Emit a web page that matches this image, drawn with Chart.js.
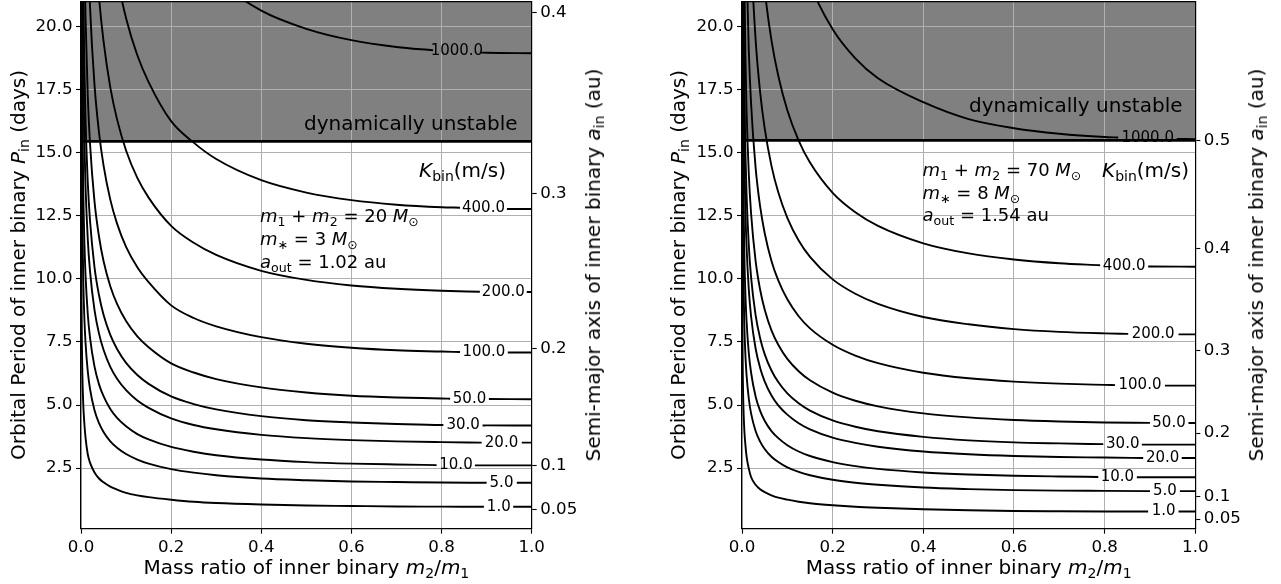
<!DOCTYPE html>
<html><head><meta charset="utf-8">
<script src="https://cdn.jsdelivr.net/npm/chart.js@4.4.0/dist/chart.umd.min.js"></script>
<style>
html,body{margin:0;padding:0;background:#fff;}
#wrap{position:relative;width:1281px;height:584px;overflow:hidden;font-family:'DejaVu Sans',sans-serif;color:#000;}
.cv{position:absolute;top:0;}
.t{position:absolute;white-space:nowrap;line-height:1;font-size:20px;}
.s{font-size:70%;vertical-align:-0.28em;line-height:0;}
.rot{transform:translate(-50%,-50%) rotate(-90deg);}
.hc{transform:translateX(-50%);}
i{font-style:italic;}
</style></head><body>
<div id="wrap">
<canvas id="cL" class="cv" width="640" height="584" style="left:0px"></canvas>
<canvas id="cR" class="cv" width="641" height="584" style="left:640px"></canvas>

<div class="t hc" style="left:306.4px;top:557.1px">Mass ratio of inner binary <i>m</i><span class="s">2</span>/<i>m</i><span class="s">1</span></div>
<div class="t rot" style="left:17.6px;top:265px">Orbital Period of inner binary <i>P</i><span class="s">in</span> (days)</div>
<div class="t rot" style="left:593.3px;top:265px">Semi-major axis of inner binary <i>a</i><span class="s">in</span> (au)</div>
<div class="t" style="left:304px;top:113.3px">dynamically unstable</div>
<div class="t" style="left:419px;top:160.4px"><i>K</i><span class="s">bin</span>(m/s)</div>
<div class="t" style="left:260px;top:206.5px;font-size:18px"><i>m</i><span class="s">1</span> + <i>m</i><span class="s">2</span> = 20 <i>M</i><span class="s">⊙</span></div>
<div class="t" style="left:260px;top:229.5px;font-size:18px"><i>m</i><span class="s">∗</span> = 3 <i>M</i><span class="s">⊙</span></div>
<div class="t" style="left:260px;top:252.5px;font-size:18px"><i>a</i><span class="s">out</span> = 1.02 au</div>

<div class="t hc" style="left:968.7px;top:557.1px">Mass ratio of inner binary <i>m</i><span class="s">2</span>/<i>m</i><span class="s">1</span></div>
<div class="t rot" style="left:678.3px;top:265px">Orbital Period of inner binary <i>P</i><span class="s">in</span> (days)</div>
<div class="t rot" style="left:1256px;top:265px">Semi-major axis of inner binary <i>a</i><span class="s">in</span> (au)</div>
<div class="t" style="left:969px;top:95px">dynamically unstable</div>
<div class="t" style="left:1102px;top:160px"><i>K</i><span class="s">bin</span>(m/s)</div>
<div class="t" style="left:922.5px;top:161px;font-size:18px"><i>m</i><span class="s">1</span> + <i>m</i><span class="s">2</span> = 70 <i>M</i><span class="s">⊙</span></div>
<div class="t" style="left:922.5px;top:183.5px;font-size:18px"><i>m</i><span class="s">∗</span> = 8 <i>M</i><span class="s">⊙</span></div>
<div class="t" style="left:922.5px;top:206px;font-size:18px"><i>a</i><span class="s">out</span> = 1.54 au</div>
</div>
<script>
// ---------- shared axis ticks / labels ----------
const Q_TICKS = [0, 0.2, 0.4, 0.6, 0.8, 1.0];
const Q_TICK_LABELS = ['0.0', '0.2', '0.4', '0.6', '0.8', '1.0'];
const P_TICKS = [2.5, 5, 7.5, 10, 12.5, 15, 17.5, 20];
const P_TICK_LABELS = ['2.5', '5.0', '7.5', '10.0', '12.5', '15.0', '17.5', '20.0'];
const LEVELS = [1, 5, 10, 20, 30, 50, 100, 200, 400, 1000];
const LEVEL_LABELS = ['1.0', '5.0', '10.0', '20.0', '30.0', '50.0', '100.0', '200.0', '400.0', '1000.0'];

// ---------- left panel (m1+m2 = 20 Msun) ----------
const L_A_TICK_P = [0.85, 2.6, 7.25, 13.37, 20.56];
const L_A_TICK_LABELS = ['0.05', '0.1', '0.2', '0.3', '0.4'];
const L_UNSTABLE_P = 15.45;
const LQ = [0.0001, 0.0002, 0.0005, 0.001, 0.002, 0.003, 0.005, 0.0075, 0.01, 0.015, 0.02, 0.03, 0.04, 0.05, 0.065, 0.08, 0.1, 0.125, 0.15, 0.2, 0.25, 0.3, 0.4, 0.5, 0.6, 0.7, 0.8, 0.9, 1.0];
const L_K1 = [25.9, 19.39, 13.2, 9.86, 7.38, 6.23, 5.03, 4.26, 3.72, 3.05, 2.72, 2.33, 2.09, 1.94, 1.77, 1.65, 1.52, 1.42, 1.35, 1.25, 1.17, 1.12, 1.06, 1.02, 1.0, 0.98, 0.975, 0.971, 0.97];
const L_K5 = [null, null, 26.1, 19.53, 14.61, 12.33, 9.96, 8.43, 7.49, 6.34, 5.64, 4.79, 4.28, 3.93, 3.56, 3.31, 3.06, 2.84, 2.68, 2.46, 2.32, 2.22, 2.09, 2.02, 1.97, 1.95, 1.93, 1.92, 1.92];
const L_K10 = [null, null, null, 26.54, 19.86, 16.76, 13.55, 11.46, 10.18, 8.61, 7.67, 6.52, 5.82, 5.35, 4.84, 4.49, 4.16, 3.85, 3.64, 3.34, 3.15, 3.01, 2.84, 2.74, 2.68, 2.645, 2.62, 2.61, 2.61];
const L_K20 = [null, null, null, null, 26.71, 22.53, 18.22, 15.41, 13.69, 11.58, 10.31, 8.76, 7.83, 7.19, 6.51, 6.04, 5.59, 5.18, 4.89, 4.47, 4.21, 4.04, 3.82, 3.69, 3.61, 3.56, 3.53, 3.51, 3.51];
const L_K30 = [null, null, null, null, null, 26.9, 21.75, 18.39, 16.34, 13.83, 12.31, 10.46, 9.35, 8.58, 7.78, 7.22, 6.67, 6.19, 5.84, 5.34, 5.04, 4.83, 4.56, 4.4, 4.31, 4.25, 4.21, 4.195, 4.19];
const L_K50 = [null, null, null, null, null, null, 27.14, 22.96, 20.4, 17.26, 15.36, 13.06, 11.67, 10.71, 9.71, 9.01, 8.33, 7.72, 7.29, 6.65, 6.29, 6.03, 5.7, 5.5, 5.37, 5.3, 5.26, 5.24, 5.23];
const L_K100 = [null, null, null, null, null, null, null, 31.08, 27.61, 23.36, 20.79, 17.68, 15.8, 14.5, 13.14, 12.19, 11.27, 10.46, 9.87, 8.95, 8.45, 8.12, 7.69, 7.43, 7.27, 7.17, 7.12, 7.09, 7.08];
const L_K200 = [null, null, null, null, null, null, null, null, null, null, 27.84, 23.67, 21.15, 19.42, 17.59, 16.32, 15.09, 14.0, 13.22, 12.1, 11.43, 10.95, 10.32, 9.96, 9.74, 9.61, 9.53, 9.49, 9.48];
const L_K400 = [null, null, null, null, null, null, null, null, null, null, null, null, null, 26.15, 23.7, 21.99, 20.33, 18.86, 17.8, 16.25, 15.4, 14.75, 13.91, 13.42, 13.12, 12.94, 12.84, 12.79, 12.77];
const L_K1000 = [null, null, null, null, null, null, null, null, null, null, null, null, null, null, null, null, null, null, null, 24.2, 22.84, 21.88, 20.63, 19.91, 19.46, 19.19, 19.04, 18.96, 18.94];
const L_GAP_Q0 = [0.894, 0.900, 0.789, 0.889, 0.804, 0.819, 0.841, 0.885, 0.841, 0.781];
const L_GAP_Q1 = [0.959, 0.967, 0.874, 0.978, 0.891, 0.905, 0.947, 0.989, 0.945, 0.885];
const L_GAP_P0 = [0.97, 1.92, 2.62, 3.51, 4.21, 5.25, 7.10, 9.49, 12.82, 19.06];
const L_GAP_P1 = [0.97, 1.92, 2.61, 3.51, 4.19, 5.24, 7.08, 9.48, 12.77, 18.97];
const L_LABEL_Q = [0.927, 0.933, 0.832, 0.933, 0.848, 0.862, 0.894, 0.937, 0.893, 0.834];
const L_LABEL_P = [0.97, 1.92, 2.62, 3.51, 4.20, 5.25, 7.09, 9.48, 12.80, 19.02];

// ---------- right panel (m1+m2 = 70 Msun) ----------
const R_A_TICK_P = [0.48, 1.37, 3.89, 7.15, 11.19, 15.49];
const R_A_TICK_LABELS = ['0.05', '0.1', '0.2', '0.3', '0.4', '0.5'];
const R_UNSTABLE_P = 15.49;
const RQ = [0.00005, 0.0001, 0.0002, 0.0005, 0.001, 0.002, 0.003, 0.005, 0.0075, 0.01, 0.015, 0.02, 0.03, 0.04, 0.05, 0.065, 0.08, 0.1, 0.125, 0.15, 0.2, 0.25, 0.3, 0.4, 0.5, 0.6, 0.7, 0.8, 0.9, 1.0];
const R_K1 = [27.9, 20.84, 15.59, 10.62, 7.93, 5.94, 5.01, 4.05, 3.42, 2.98, 2.48, 2.15, 1.84, 1.66, 1.55, 1.42, 1.33, 1.25, 1.17, 1.11, 1.03, 0.97, 0.93, 0.87, 0.83, 0.80, 0.79, 0.784, 0.781, 0.78];
const R_K5 = [null, null, 31.8, 21.64, 16.17, 12.1, 10.21, 8.25, 6.98, 6.2, 5.25, 4.67, 3.97, 3.55, 3.26, 2.95, 2.74, 2.53, 2.35, 2.22, 2.04, 1.92, 1.84, 1.73, 1.67, 1.63, 1.61, 1.6, 1.59, 1.59];
const R_K10 = [null, null, null, 29.13, 21.76, 16.29, 13.74, 11.11, 9.39, 8.35, 7.06, 6.29, 5.34, 4.77, 4.38, 3.97, 3.69, 3.41, 3.16, 2.98, 2.74, 2.58, 2.47, 2.33, 2.25, 2.2, 2.17, 2.15, 2.14, 2.14];
const R_K20 = [null, null, null, null, 29.49, 22.07, 18.62, 15.05, 12.73, 11.31, 9.57, 8.52, 7.24, 6.47, 5.94, 5.38, 4.99, 4.62, 4.28, 4.04, 3.71, 3.5, 3.35, 3.16, 3.05, 2.98, 2.94, 2.92, 2.9, 2.9];
const R_K30 = [null, null, null, null, 34.88, 26.1, 22.02, 17.8, 15.06, 13.38, 11.32, 10.07, 8.56, 7.65, 7.02, 6.37, 5.91, 5.46, 5.07, 4.78, 4.39, 4.14, 3.96, 3.74, 3.6, 3.52, 3.48, 3.45, 3.43, 3.43];
const R_K50 = [null, null, null, null, null, 32.65, 27.54, 22.27, 18.83, 16.73, 14.16, 12.6, 10.71, 9.57, 8.79, 7.96, 7.39, 6.83, 6.34, 5.98, 5.49, 5.17, 4.95, 4.67, 4.51, 4.41, 4.35, 4.31, 4.295, 4.29];
const R_K100 = [null, null, null, null, null, null, 37.0, 29.95, 25.33, 22.5, 19.04, 16.95, 14.41, 12.87, 11.82, 10.71, 9.94, 9.19, 8.52, 8.04, 7.39, 6.96, 6.66, 6.28, 6.06, 5.93, 5.85, 5.8, 5.78, 5.77];
const R_K200 = [null, null, null, null, null, null, null, null, 34.24, 30.42, 25.74, 22.91, 19.48, 17.4, 15.97, 14.48, 13.43, 12.42, 11.52, 10.87, 9.98, 9.41, 9.01, 8.49, 8.2, 8.01, 7.9, 7.84, 7.81, 7.8];
const R_K400 = [null, null, null, null, null, null, null, null, null, null, null, 30.78, 26.17, 23.38, 21.46, 19.45, 18.05, 16.68, 15.48, 14.61, 13.41, 12.64, 12.1, 11.41, 11.01, 10.77, 10.62, 10.53, 10.49, 10.48];
const R_K1000 = [null, null, null, null, null, null, null, null, null, null, null, null, null, null, null, null, null, 24.74, 22.95, 21.66, 19.89, 18.74, 17.95, 17.0, 16.33, 15.97, 15.75, 15.62, 15.56, 15.54];
const R_GAP_Q0 = [0.896, 0.900, 0.786, 0.885, 0.797, 0.900, 0.823, 0.852, 0.790, 0.830];
const R_GAP_Q1 = [0.963, 0.966, 0.871, 0.970, 0.882, 0.985, 0.933, 0.963, 0.896, 0.959];
const R_GAP_P0 = [0.781, 1.59, 2.15, 2.90, 3.45, 4.295, 5.79, 7.82, 10.54, 15.60];
const R_GAP_P1 = [0.78, 1.59, 2.14, 2.90, 3.43, 4.29, 5.77, 7.80, 10.49, 15.55];
const R_LABEL_Q = [0.930, 0.933, 0.828, 0.928, 0.840, 0.942, 0.878, 0.907, 0.843, 0.895];
const R_LABEL_P = [0.78, 1.59, 2.15, 2.90, 3.44, 4.29, 5.78, 7.81, 10.51, 15.56];

// ---------- drawing ----------
const FONT = "'DejaVu Sans', sans-serif";
const GRID = '#b0b0b0';
const GRAY = '#808080';

function buildCurve(Q, P, q0, p0, q1, p1) {
  const pts = [];
  for (let j = 0; j < Q.length; j++) if (P[j] !== null && Q[j] < q0) pts.push({x: Q[j], y: P[j]});
  pts.push({x: q0, y: p0});
  pts.push({x: (q0 + q1) / 2, y: null});
  pts.push({x: q1, y: p1});
  for (let j = 0; j < Q.length; j++) if (P[j] !== null && Q[j] > q1) pts.push({x: Q[j], y: P[j]});
  return pts;
}

const gridOver = {
  id: 'gridOver',
  afterDatasetDraw(chart, args) {
    if (!chart.data.datasets[args.index].isFill) return;
    const a = chart.chartArea, ctx = chart.ctx;
    ctx.save();
    ctx.beginPath(); ctx.rect(a.left, a.top, a.right - a.left, a.bottom - a.top); ctx.clip();
    chart.scales.x.drawGrid(a); chart.scales.y.drawGrid(a);
    ctx.restore();
  }
};
const clabels = {
  id: 'clabels',
  afterDatasetsDraw(chart) {
    const c = chart.options.plugins.clabels;
    const ctx = chart.ctx, xs = chart.scales.x, ys = chart.scales.y;
    ctx.save();
    ctx.font = c.size + 'px ' + FONT;
    ctx.fillStyle = '#000'; ctx.textAlign = 'center'; ctx.textBaseline = 'middle';
    for (let i = 0; i < c.text.length; i++) {
      ctx.fillText(c.text[i], xs.getPixelForValue(c.q[i]), ys.getPixelForValue(c.p[i]));
    }
    ctx.restore();
  }
};

function makePanel(id, W, box, Q, curves, gq0, gp0, gq1, gp1, lq, lp, aTickP, aTickLabels, crit) {
  const datasets = [];
  datasets.push({data: [{x: 0, y: crit}, {x: 1, y: crit}], fill: 'end', backgroundColor: GRAY, borderWidth: 0, pointRadius: 0, order: 10, isFill: true});
  curves.forEach((P, i) => {
    datasets.push({data: buildCurve(Q, P, gq0[i], gp0[i], gq1[i], gp1[i]), borderColor: '#000', borderWidth: 1.9, pointRadius: 0, fill: false, cubicInterpolationMode: 'monotone', spanGaps: false, order: 2});
  });
  datasets.push({data: [{x: 0, y: crit}, {x: 1, y: crit}], borderColor: '#000', borderWidth: 2.6, pointRadius: 0, fill: false, order: 1});
  const tickFont = {family: FONT, size: 16.67};
  const zero = s => { s.paddingTop = 0; s.paddingBottom = 0; s.paddingLeft = 0; s.paddingRight = 0; };
  new Chart(document.getElementById(id), {
    type: 'line',
    data: {datasets},
    options: {
      responsive: false, animation: false, devicePixelRatio: 1,
      layout: {padding: 0, autoPadding: false},
      plugins: {legend: {display: false}, tooltip: {enabled: false},
        clabels: {text: LEVEL_LABELS, q: lq, p: lp, size: 15}},
      scales: {
        x: {type: 'linear', position: 'bottom', min: 0, max: 1,
          afterBuildTicks: s => { s.ticks = Q_TICKS.map(v => ({value: v})); },
          afterFit: s => { s.height = W.h - box.bottom; zero(s); },
          ticks: {font: tickFont, color: '#000', padding: 3.5, autoSkip: false, maxRotation: 0, callback: (v, i) => Q_TICK_LABELS[i]},
          grid: {color: GRID, lineWidth: 1, tickColor: '#000', tickLength: 5, tickWidth: 1.1},
          border: {color: '#000', width: 1.2, z: 1}},
        x2: {type: 'linear', position: 'top', min: 0, max: 1, display: true,
          afterFit: s => { s.height = box.top; zero(s); },
          ticks: {display: false}, grid: {display: false, drawTicks: false},
          border: {color: '#000', width: 1.2, z: 1}},
        y: {type: 'linear', position: 'left', min: 0.1, max: 21,
          afterBuildTicks: s => { s.ticks = P_TICKS.map(v => ({value: v})); },
          afterFit: s => { s.width = box.left; zero(s); },
          ticks: {font: tickFont, color: '#000', padding: 3.5, autoSkip: false, callback: (v, i) => P_TICK_LABELS[i]},
          grid: {color: GRID, lineWidth: 1, tickColor: '#000', tickLength: 5, tickWidth: 1.1},
          border: {color: '#000', width: 1.2, z: 1}},
        y2: {type: 'linear', position: 'right', min: 0.1, max: 21,
          afterBuildTicks: s => { s.ticks = aTickP.map(v => ({value: v})); },
          afterFit: s => { s.width = W.w - box.right; zero(s); },
          ticks: {font: tickFont, color: '#000', padding: 3.5, autoSkip: false, callback: (v, i) => aTickLabels[i]},
          grid: {drawOnChartArea: false, tickColor: '#000', tickLength: 5, tickWidth: 1.1},
          border: {color: '#000', width: 1.2, z: 1}}
      }
    },
    plugins: [gridOver, clabels]
  });
}

makePanel('cL', {w: 640, h: 584}, {left: 81, right: 531.7, top: 1.3, bottom: 528.7}, LQ,
  [L_K1, L_K5, L_K10, L_K20, L_K30, L_K50, L_K100, L_K200, L_K400, L_K1000],
  L_GAP_Q0, L_GAP_P0, L_GAP_Q1, L_GAP_P1, L_LABEL_Q, L_LABEL_P, L_A_TICK_P, L_A_TICK_LABELS, L_UNSTABLE_P);
makePanel('cR', {w: 641, h: 584}, {left: 102, right: 555.3, top: 1.3, bottom: 528.7}, RQ,
  [R_K1, R_K5, R_K10, R_K20, R_K30, R_K50, R_K100, R_K200, R_K400, R_K1000],
  R_GAP_Q0, R_GAP_P0, R_GAP_Q1, R_GAP_P1, R_LABEL_Q, R_LABEL_P, R_A_TICK_P, R_A_TICK_LABELS, R_UNSTABLE_P);
</script>
</body></html>
